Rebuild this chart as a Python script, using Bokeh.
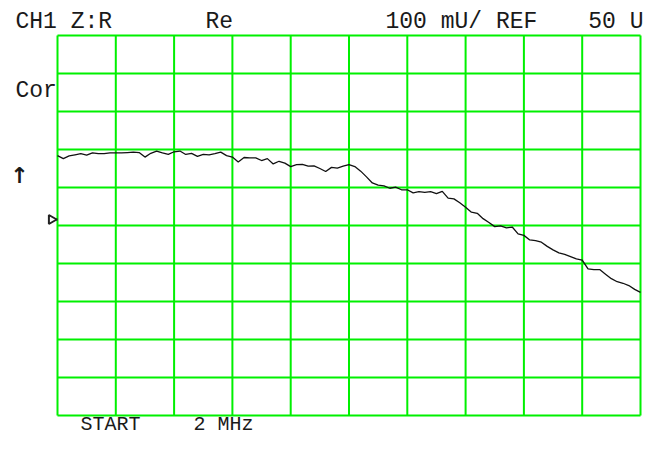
import numpy as np
from bokeh.plotting import figure
from bokeh.models import Label
from bokeh.embed import file_html
from bokeh.resources import INLINE

# ---- data (trace, units U) ----
ref_level = 50.0          # REF 50 U (centre line)
scale_per_div = 0.1       # 100 mU / div
n_div_x = 10
n_div_y = 10
trace_u = [
    50.184, 50.176, 50.183, 50.186, 50.189, 50.185, 50.191, 50.189, 50.189, 50.191,
    50.191, 50.191, 50.192, 50.193, 50.192, 50.180, 50.190, 50.196, 50.191, 50.187,
    50.194, 50.196, 50.187, 50.190, 50.182, 50.187, 50.186, 50.189, 50.193, 50.184,
    50.180, 50.167, 50.179, 50.178, 50.178, 50.171, 50.176, 50.162, 50.169, 50.164,
    50.155, 50.160, 50.161, 50.156, 50.157, 50.150, 50.142, 50.153, 50.151, 50.156,
    50.160, 50.155, 50.143, 50.128, 50.112, 50.106, 50.104, 50.098, 50.101, 50.094,
    50.094, 50.086, 50.089, 50.087, 50.089, 50.084, 50.090, 50.072, 50.070, 50.060,
    50.048, 50.035, 50.032, 50.018, 50.008, 49.997, 49.999, 49.994, 49.996, 49.978,
    49.974, 49.962, 49.960, 49.956, 49.945, 49.936, 49.928, 49.924, 49.918, 49.912,
    49.909, 49.886, 49.884, 49.884, 49.872, 49.860, 49.852, 49.848, 49.842, 49.832,
    49.824,
]
header_left = "CH1 Z:R"
header_mode = "Re"
header_scale = "100 mU/ REF"
header_ref = "50 U"
status_text = "Cor"
start_word = "START"
start_value = "2 MHz"

# ---- layout (picture pixels) ----
W, H = 645, 436
GL, GR, GT, GB = 57, 640, 35, 415
top_val = ref_level + scale_per_div * n_div_y / 2
bot_val = ref_level - scale_per_div * n_div_y / 2
xs_per_px = n_div_x / (GR - GL)
ys_per_px = (top_val - bot_val) / (GB - GT)

def dx(px):
    return (px - GL) * xs_per_px

def dy(py):
    return top_val - (py - GT) * ys_per_px

p = figure(width=W, height=H, output_backend="svg", toolbar_location=None,
           x_range=(dx(0), dx(W)), y_range=(dy(H), dy(0)),
           min_border=0, background_fill_color="white", border_fill_color="white")
p.axis.visible = False
p.xgrid.visible = False
p.ygrid.visible = False
p.outline_line_color = None

# grid
green = "#00f000"
xt = np.arange(n_div_x + 1)
yt = bot_val + scale_per_div * np.arange(n_div_y + 1)
p.segment(x0=xt, y0=bot_val, x1=xt, y1=top_val, line_color=green, line_width=2)
p.segment(x0=0, y0=yt, x1=n_div_x, y1=yt, line_color=green, line_width=2)

# trace
sweep = np.linspace(0, n_div_x, len(trace_u))
p.line(sweep, trace_u, line_color="#111111", line_width=1.3)

# reference marker
p.segment(x0=dx(52), y0=dy(219), x1=0, y1=dy(219), line_color="#222222", line_width=2)
p.scatter([dx(51)], [dy(219)], marker="triangle", angle=-np.pi / 2, size=9,
          fill_color="white", line_color="#222222", line_width=2)

font = "Liberation Mono"
fs = "23px"
def lab(txt, px, py, size=fs, align="left", base="alphabetic", f=font, style="normal"):
    p.add_layout(Label(x=dx(px), y=dy(py), text=txt, text_font=f, text_font_size=size,
                       text_font_style=style,
                       text_color="#1a1a1a", text_align=align, text_baseline=base))

lab(header_left, 15, 21)
lab(header_mode, 205, 21)
lab(header_scale, 385, 21)
lab(header_ref, 643, 21, align="right")
lab(status_text, 15, 90)
lab("\u2191", 19, 175, size="22px", align="center", base="middle", f="DejaVu Sans", style="bold")
lab(start_word, 80, 424, size="20px")
lab(start_value, 193, 424, size="20px")

open("out.html", "w").write(file_html(p, INLINE))
